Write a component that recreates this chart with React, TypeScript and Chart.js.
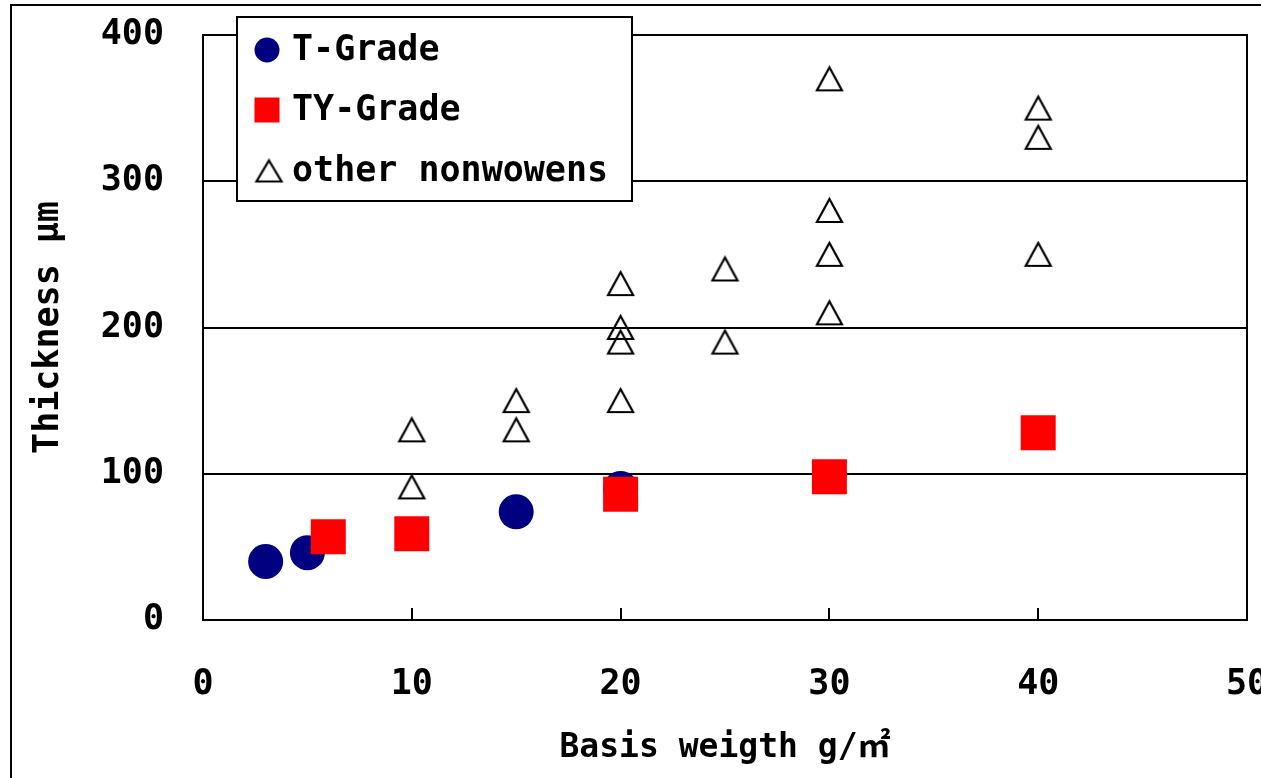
import React, { useEffect, useRef } from "react";
import { Chart, registerables } from "chart.js";

Chart.register(...registerables);

// ---- Data ----
const tGradeX = [3, 5, 15, 20];
const tGradeY = [40, 46, 74, 90];

const tyGradeX = [6, 10, 20, 30, 40];
const tyGradeY = [57, 59, 86, 98, 128];

const otherX = [10, 10, 15, 15, 20, 20, 20, 20, 25, 25, 30, 30, 30, 30, 40, 40, 40];
const otherY = [130, 91, 150, 130, 230, 200, 190, 150, 240, 190, 370, 280, 250, 210, 350, 330, 250];

const seriesLabels = ["T-Grade", "TY-Grade", "other nonwowens"];
const xTitle = "Basis weigth g/㎡";
const yTitle = "Thickness μm";

const FONT = "'DejaVu Sans Mono', 'Noto Sans CJK JP', monospace";

function makeTriangle(w: number, h: number, lw: number) {
  const pad = 4;
  const c = document.createElement("canvas");
  c.width = w + pad * 2;
  c.height = h + pad * 2;
  const g = c.getContext("2d")!;
  g.strokeStyle = "#000";
  g.lineWidth = lw;
  g.lineJoin = "miter";
  g.beginPath();
  g.moveTo(pad + w / 2, pad);
  g.lineTo(pad + w, pad + h);
  g.lineTo(pad, pad + h);
  g.closePath();
  g.stroke();
  return c;
}

const toPts = (xs: number[], ys: number[]) => xs.map((x, i) => ({ x, y: ys[i] }));

export default function App() {
  const ref = useRef<HTMLCanvasElement | null>(null);

  useEffect(() => {
    document.body.style.margin = "0";
    document.body.style.overflow = "hidden";
    document.documentElement.style.overflow = "hidden";
    const canvas = ref.current!;
    const tri = makeTriangle(25, 23, 2.2);
    const legendTri = makeTriangle(25, 21, 2.2);

    const framePlugin = {
      id: "frame",
      beforeDatasetsDraw(chart: any) {
        const { ctx, chartArea } = chart;
        const { left, top, right, bottom } = chartArea;
        ctx.save();
        ctx.strokeStyle = "#000";
        ctx.lineWidth = 2;
        ctx.strokeRect(left, top, right - left, bottom - top);
        ctx.restore();
      },
      afterDraw(chart: any) {
        const { ctx } = chart;
        const bx = 237, by = 17, bw = 395, bh = 184;
        ctx.save();
        ctx.fillStyle = "#fff";
        ctx.fillRect(bx, by, bw, bh);
        ctx.strokeStyle = "#000";
        ctx.lineWidth = 2;
        ctx.strokeRect(bx, by, bw, bh);
        const rows = [50, 110, 171];
        const mx = 267;
        chart.data.datasets.forEach((ds: any, i: number) => {
          const y = rows[i];
          if (i === 0) {
            ctx.fillStyle = "#000080";
            ctx.beginPath();
            ctx.arc(mx, y, 12.5, 0, Math.PI * 2);
            ctx.fill();
          } else if (i === 1) {
            ctx.fillStyle = "#FF0000";
            ctx.fillRect(mx - 12.5, y - 12.5, 25, 25);
          } else {
            ctx.drawImage(legendTri, mx - legendTri.width / 2 + 2, y - legendTri.height / 2);
          }
          ctx.fillStyle = "#000";
          ctx.font = `bold 35px ${FONT}`;
          ctx.textBaseline = "middle";
          ctx.textAlign = "left";
          ctx.fillText(ds.label, 292, y + 1);
        });
        ctx.restore();
      },
    };

    const chart = new Chart(canvas, {
      type: "scatter",
      data: {
        datasets: [
          {
            label: seriesLabels[0],
            data: toPts(tGradeX, tGradeY),
            pointStyle: "circle",
            pointRadius: 17.5,
            pointHoverRadius: 17.5,
            backgroundColor: "#000080",
            borderColor: "#000080",
            borderWidth: 0,
            order: 1,
          },
          {
            label: seriesLabels[1],
            data: toPts(tyGradeX, tyGradeY),
            pointStyle: "rect",
            pointRadius: 24.75,
            pointHoverRadius: 24.75,
            backgroundColor: "#FF0000",
            borderColor: "#FF0000",
            borderWidth: 0,
            order: 0,
          },
          {
            label: seriesLabels[2],
            data: toPts(otherX, otherY),
            pointStyle: tri as any,
            pointRadius: 14,
            backgroundColor: "transparent",
            borderColor: "#000",
            order: 2,
          },
        ],
      },
      options: {
        responsive: false,
        animation: false,
        events: [],
        layout: { autoPadding: false, padding: { left: 0, right: 53, top: 35, bottom: 0 } },
        plugins: {
          legend: { display: false },
          tooltip: { enabled: false },
        },
        scales: {
          x: {
            type: "linear",
            min: 0,
            max: 50,
            ticks: {
              stepSize: 10,
              color: "#000",
              padding: 56,
              font: { family: FONT, size: 35, weight: "bold" },
            },
            grid: {
              display: true,
              drawOnChartArea: false,
              drawTicks: true,
              tickLength: -12,
              color: "#000",
              lineWidth: 2,
            },
            border: { display: false },
            title: {
              display: true,
              text: xTitle,
              color: "#000",
              padding: { top: 0, bottom: 10 },
              font: { family: FONT, size: 33, weight: "bold" },
            },
            afterFit: (s: any) => {
              s.height = 158;
              s.paddingLeft = 0;
              s.paddingRight = 0;
            },
          },
          y: {
            type: "linear",
            min: 0,
            max: 400,
            ticks: {
              stepSize: 100,
              color: "#000",
              padding: 39,
              font: { family: FONT, size: 35, weight: "bold" },
            },
            grid: {
              display: true,
              drawTicks: false,
              color: "#000",
              lineWidth: 2,
            },
            border: { display: false },
            title: {
              display: true,
              text: yTitle,
              color: "#000",
              padding: { top: 28, bottom: 0 },
              font: { family: FONT, size: 35, weight: "bold" },
            },
            afterFit: (s: any) => {
              s.width = 203;
              s.paddingTop = 0;
              s.paddingBottom = 0;
            },
          },
        },
      },
      plugins: [framePlugin],
    } as any);

    return () => chart.destroy();
  }, []);

  return (
    <div style={{ position: "relative", width: 1261, height: 778, overflow: "hidden", background: "#fff" }}>
      <div
        style={{
          position: "absolute",
          left: 10,
          top: 4,
          width: 1320,
          height: 820,
          border: "2px solid #000",
          boxSizing: "border-box",
        }}
      />
      <canvas ref={ref} width={1300} height={778} style={{ position: "absolute", left: 0, top: 0, width: 1300, height: 778 }} />
    </div>
  );
}
